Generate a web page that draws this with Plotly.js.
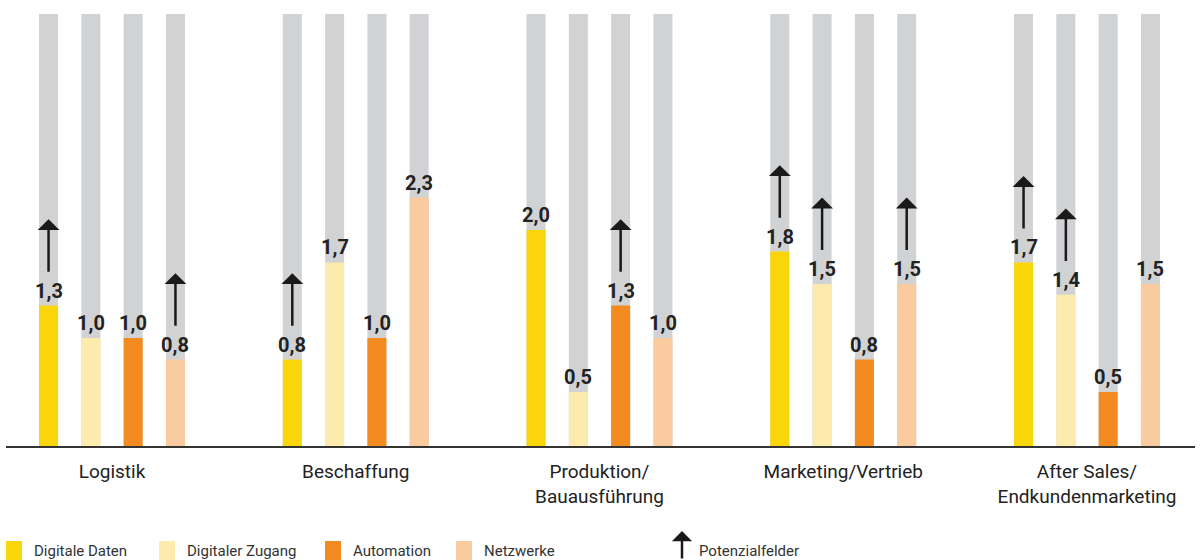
<!DOCTYPE html>
<html>
<head>
<meta charset="utf-8">
<script src="https://cdn.plot.ly/plotly-3.0.1.min.js"></script>
<style>html,body{margin:0;padding:0;background:#fff;}#chart{width:1201px;height:560px;}</style>
</head>
<body>
<div id="chart"></div>
<script>
// ---- data ----
const categories = ['Logistik', 'Beschaffung', 'Produktion/<br>Bauausführung', 'Marketing/Vertrieb', 'After Sales/<br>Endkundenmarketing'];
const seriesNames = ['Digitale Daten', 'Digitaler Zugang', 'Automation', 'Netzwerke'];
const digitaleDaten = [1.3, 0.8, 2.0, 1.8, 1.7];
const digitalerZugang = [1.0, 1.7, 0.5, 1.5, 1.4];
const automation = [1.0, 1.0, 1.3, 0.8, 0.5];
const netzwerke = [0.8, 2.3, 1.0, 1.5, 1.5];
const scaleMax = [4, 4, 4, 4, 4];
// Potenzialfelder (1 = arrow shown)
const potDigitaleDaten = [1, 1, 0, 1, 1];
const potDigitalerZugang = [0, 0, 0, 1, 1];
const potAutomation = [0, 0, 1, 0, 0];
const potNetzwerke = [1, 0, 0, 1, 0];
const legendArrowLabel = 'Potenzialfelder';

// ---- styling ----
const colors = ['#FAD50A', '#FDEAAD', '#F48B21', '#FACB9E'];
const grey = '#D1D2D4';
const textColor = '#222222';
const FONT = 'Roboto, "DejaVu Sans", sans-serif';

const series = [digitaleDaten, digitalerZugang, automation, netzwerke];
const pots = [potDigitaleDaten, potDigitalerZugang, potAutomation, potNetzwerke];

const W = 1201, H = 560;
const M = {l: 6, r: 6, t: 4, b: 114};
const pxPerGroup = 243.75;
const xr0 = -(112 - M.l) / pxPerGroup;
const xr1 = xr0 + (W - M.l - M.r) / pxPerGroup;
const yMax = (H - M.t - M.b) / 108;
const step = 42.3 / pxPerGroup;
const barW = 19 / pxPerGroup;
const offsets = [-1.5, -0.5, 0.5, 1.5].map(k => k * step);
const idx = categories.map((c, i) => i);

const traces = [];
const annotations = [];
const shapes = [];

series.forEach((vals, s) => {
  const xs = idx.map(i => i + offsets[s]);
  traces.push({type: 'bar', x: xs, y: scaleMax, width: barW, marker: {color: grey, line: {width: 0}},
    hoverinfo: 'skip', showlegend: false});
});
series.forEach((vals, s) => {
  const xs = idx.map(i => i + offsets[s]);
  traces.push({type: 'bar', x: xs, y: vals, width: barW, name: seriesNames[s],
    marker: {color: colors[s], line: {width: 0}}, hoverinfo: 'skip', showlegend: false});
  vals.forEach((v, i) => {
    annotations.push({x: xs[i], y: v, xref: 'x', yref: 'y', text: '<b>' + v.toFixed(1).replace('.', ',') + '</b>',
      showarrow: false, yanchor: 'bottom', xanchor: 'center', yshift: 1,
      font: {family: FONT, size: 20, color: textColor}});
    if (pots[s][i]) {
      annotations.push({x: xs[i], y: v + 0.8, ax: xs[i], ay: v + 0.3, xref: 'x', yref: 'y', axref: 'x', ayref: 'y',
        text: '', showarrow: true, arrowhead: 1, arrowwidth: 2.5, arrowsize: 1.45, arrowcolor: '#1a1a1a', standoff: 0});
    }
  });
});

// legend (custom)
const pw = W - M.l - M.r, ph = H - M.t - M.b;
const px2x = p => (p - M.l) / pw;
const py2y = p => (H - M.b - p) / ph;
const legSq = [6, 159, 325, 456];
legSq.forEach((lx, s) => {
  shapes.push({type: 'rect', xref: 'paper', yref: 'paper', x0: px2x(lx), x1: px2x(lx + 16), y0: py2y(541), y1: py2y(560),
    fillcolor: colors[s], line: {width: 0}});
  annotations.push({xref: 'paper', yref: 'paper', x: px2x(lx + 26), y: py2y(551), xanchor: 'left', yanchor: 'middle',
    text: seriesNames[s], showarrow: false, font: {family: FONT, size: 15, color: '#333'}});
});
annotations.push({xref: 'paper', yref: 'paper', x: px2x(682), y: py2y(531), ax: 0, ay: 32, text: '', showarrow: true,
  arrowhead: 1, arrowwidth: 2.5, arrowsize: 1.35, arrowcolor: '#1a1a1a', standoff: 0});
annotations.push({xref: 'paper', yref: 'paper', x: px2x(697), y: py2y(551), xanchor: 'left', yanchor: 'middle',
  text: legendArrowLabel, showarrow: false, font: {family: FONT, size: 15, color: '#333'}});

const layout = {
  width: W, height: H, margin: M, paper_bgcolor: '#fff', plot_bgcolor: '#fff',
  barmode: 'overlay', showlegend: false,
  xaxis: {range: [xr0, xr1], tickvals: idx, ticktext: categories, ticks: '', ticklabelstandoff: 8, showgrid: false, zeroline: false,
    showline: true, linecolor: '#333', linewidth: 1.5, tickfont: {family: FONT, size: 19, color: textColor}, fixedrange: true},
  yaxis: {range: [0, yMax], visible: false, showgrid: false, zeroline: false, fixedrange: true},
  annotations: annotations, shapes: shapes
};
Plotly.newPlot('chart', traces, layout, {staticPlot: true, displayModeBar: false});
</script>
</body>
</html>
